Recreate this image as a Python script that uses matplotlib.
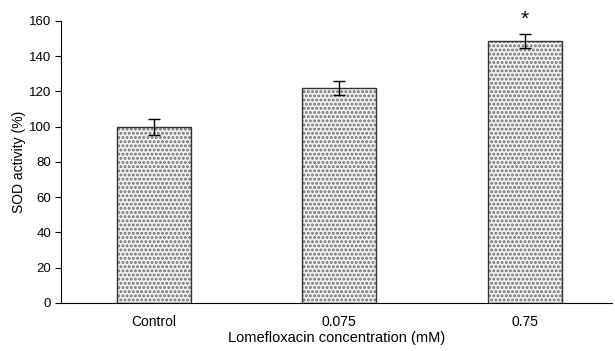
import numpy as np
import matplotlib
matplotlib.use("Agg")
import matplotlib.pyplot as plt

plt.rcParams['font.family'] = ['Liberation Sans', 'DejaVu Sans']
plt.rcParams['hatch.linewidth'] = 1.4

categories = ["Control", "0.075", "0.75"]
sod = [100, 122, 148.5]
err = [4.5, 4, 4]
marks = ["", "", "*"]

fig = plt.figure(figsize=(6.15, 3.51), dpi=100)
ax = fig.add_axes([0.0992, 0.1368, 0.896, 0.8034])

x = np.arange(len(categories))
# dotted fill
ax.bar(x, sod, width=0.4, color="#f2f2f2", edgecolor="#6e6e6e", hatch="....", linewidth=0)
# outline
ax.bar(x, sod, width=0.4, fill=False, edgecolor="#333333", linewidth=1.0)
ax.errorbar(x, sod, yerr=err, fmt="none", ecolor="black", elinewidth=1.0, capsize=4, capthick=1.0)

for xi, v, e, m in zip(x, sod, err, marks):
    if m:
        ax.text(xi, v + e + 3, m, ha="center", va="bottom", fontsize=15, clip_on=False)

ax.set_xlim(-0.5, 2.47)
ax.set_ylim(0, 160)
ax.set_yticks(range(0, 161, 20))
ax.set_xticks(x)
ax.set_xticklabels(categories)
ax.tick_params(axis="x", length=0, pad=9, labelsize=10)
ax.tick_params(axis="y", length=4, width=0.8, labelsize=9.5, pad=3)
ax.spines["top"].set_visible(False)
ax.spines["right"].set_visible(False)
ax.spines["left"].set_linewidth(0.8)
ax.spines["bottom"].set_linewidth(0.8)

ax.set_ylabel("SOD activity (%)", fontsize=10, labelpad=2)
ax.set_xlabel("Lomefloxacin concentration (mM)", fontsize=10.5, labelpad=1)

fig.savefig("out.png", dpi=100)
